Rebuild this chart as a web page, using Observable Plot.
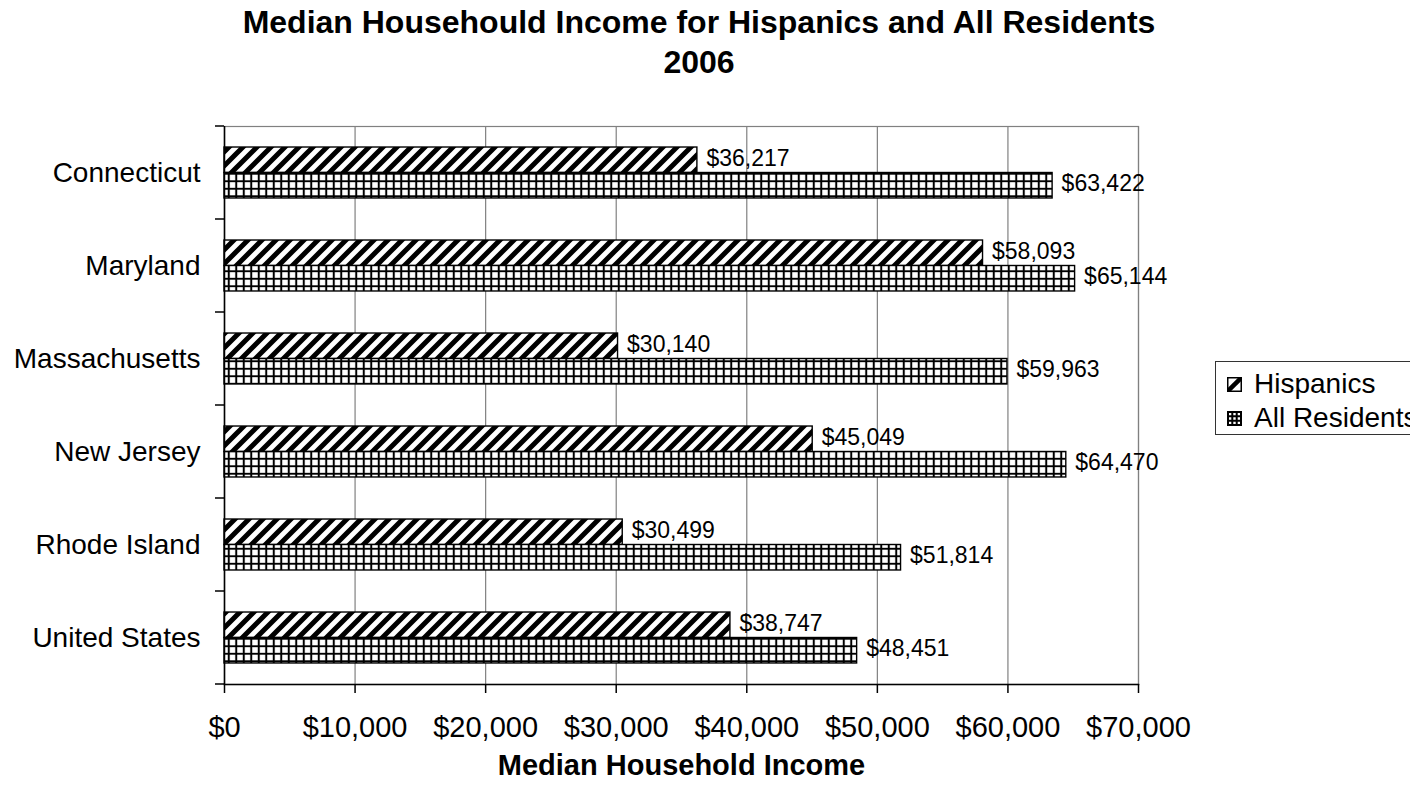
<!DOCTYPE html>
<html>
<head>
<meta charset="utf-8">
<script src="https://cdn.jsdelivr.net/npm/d3@7"></script>
<script src="https://cdn.jsdelivr.net/npm/@observablehq/plot@0.6"></script>
<style>
  html, body { margin: 0; padding: 0; background: #fff; }
  body { width: 1410px; height: 787px; overflow: hidden; position: relative; font-family: "Liberation Sans", Arial, sans-serif; color: #000; }
  #title { height: 110px; box-sizing: border-box; padding-top: 2px; padding-right: 12px; text-align: center; font-weight: bold; font-size: 32px; line-height: 40px; }
  #chart svg { display: block; }
  #legend { position: absolute; left: 1215px; top: 361px; width: 215px; height: 74px; box-sizing: border-box; border: 1px solid #333; background: #fff; font-size: 28px; padding-top: 5px; }
  .lrow { height: 34px; display: flex; align-items: center; white-space: nowrap; }
  .lrow svg { margin-left: 11px; margin-right: 12px; flex: none; }
</style>
</head>
<body>
<div id="title">Median Househould Income for Hispanics and All Residents<br>2006</div>
<div id="chart"></div>
<div id="legend"></div>
<script>
const states = ["Connecticut", "Maryland", "Massachusetts", "New Jersey", "Rhode Island", "United States"];
const seriesNames = ["Hispanics", "All Residents"];
const hispanics = [36217, 58093, 30140, 45049, 30499, 38747];
const allResidents = [63422, 65144, 59963, 64470, 51814, 48451];
const xTicks = [0, 10000, 20000, 30000, 40000, 50000, 60000, 70000];

const hisp = states.map((s, i) => ({state: s, series: seriesNames[0], value: hispanics[i]}));
const all = states.map((s, i) => ({state: s, series: seriesNames[1], value: allResidents[i]}));

const money = v => "$" + d3.format(",")(v);

const H = 677, MT = 16, MB = 103;
const bw = (H - MT - MB) / states.length;
const padOut = bw * 0.226;
const half = (bw - 2 * padOut) / 2;

const plot = Plot.plot({
  width: 1410,
  height: H,
  marginLeft: 224,
  marginRight: 272,
  marginTop: MT,
  marginBottom: MB,
  style: {fontFamily: "'Liberation Sans', Arial, sans-serif", fontSize: "28px", color: "black", background: "white", overflow: "visible"},
  x: {domain: [0, 70000]},
  y: {domain: states, padding: 0},
  marks: [
    Plot.ruleX(xTicks, {stroke: "#808080", strokeWidth: 1.2}),
    Plot.frame({stroke: "#808080", strokeWidth: 1.2}),
    Plot.barX(hisp, {y: "state", x: "value", fill: "url(#hatch)", stroke: "black", strokeWidth: 1.4, insetTop: padOut, insetBottom: padOut + half}),
    Plot.barX(all, {y: "state", x: "value", fill: "url(#gridpat)", stroke: "black", strokeWidth: 1.4, insetTop: padOut + half, insetBottom: padOut}),
    Plot.ruleX([0], {stroke: "black", strokeWidth: 1.5}),
    Plot.frame({anchor: "bottom", stroke: "black", strokeWidth: 1.5}),
    Plot.text(hisp, {y: "state", x: "value", text: d => money(d.value), textAnchor: "start", dx: 9, dy: -14, fontSize: 23}),
    Plot.text(all, {y: "state", x: "value", text: d => money(d.value), textAnchor: "start", dx: 9, dy: 11, fontSize: 23}),
    Plot.axisX(xTicks, {tickSize: 9, tickPadding: 23, tickFormat: money, fontSize: 29, label: null, strokeWidth: 1.5}),
    Plot.axisY({tickSize: 0, tickPadding: 24, fontSize: 28, label: null}),
    Plot.text(["Median Household Income"], {frameAnchor: "bottom", dy: 90, fontWeight: "bold", fontSize: 29})
  ]
});

// Patterns
const svg = d3.select(plot);
const defs = svg.insert("defs", ":first-child");
const hp = defs.append("pattern").attr("id", "hatch").attr("patternUnits", "userSpaceOnUse").attr("width", 14).attr("height", 14);
hp.append("rect").attr("width", 14).attr("height", 14).attr("fill", "white");
hp.append("path").attr("d", "M-1,15 L15,-1 M-8,8 L8,-8 M6,22 L22,6").attr("stroke", "black").attr("stroke-width", 5);
const gp = defs.append("pattern").attr("id", "gridpat").attr("patternUnits", "userSpaceOnUse").attr("width", 7.5).attr("height", 7.5);
gp.append("rect").attr("width", 7.5).attr("height", 7.5).attr("fill", "white");
gp.append("path").attr("d", "M3.75,0 V7.5 M0,3.75 H7.5").attr("stroke", "black").attr("stroke-width", 2);

// category boundary ticks on the y axis
const ys = plot.scale("y");
const x0 = plot.scale("x").apply(0);
const bounds = ys.domain.map(d => ys.apply(d)).concat([ys.apply(ys.domain[ys.domain.length - 1]) + ys.bandwidth]);
svg.append("g").selectAll("line").data(bounds).join("line")
  .attr("x1", x0 - 9).attr("x2", x0).attr("y1", d => d).attr("y2", d => d)
  .attr("stroke", "black").attr("stroke-width", 1.5);

document.getElementById("chart").appendChild(plot);

// Legend
const legend = document.getElementById("legend");
const sw = {
  "Hispanics": '<svg width="15" height="15"><rect x="0.75" y="0.75" width="13.5" height="13.5" fill="white" stroke="black" stroke-width="1.5"/><path d="M1,14 L14,1" stroke="black" stroke-width="4.5"/></svg>',
  "All Residents": '<svg width="15" height="15"><rect x="1" y="1" width="13" height="13" fill="white" stroke="black" stroke-width="2"/><path d="M5.3,1 V14 M9.7,1 V14 M1,5.3 H14 M1,9.7 H14" stroke="black" stroke-width="2"/></svg>'
};
seriesNames.forEach(n => {
  const row = document.createElement("div");
  row.className = "lrow";
  row.innerHTML = sw[n] + "<span>" + n + "</span>";
  legend.appendChild(row);
});
</script>
</body>
</html>
